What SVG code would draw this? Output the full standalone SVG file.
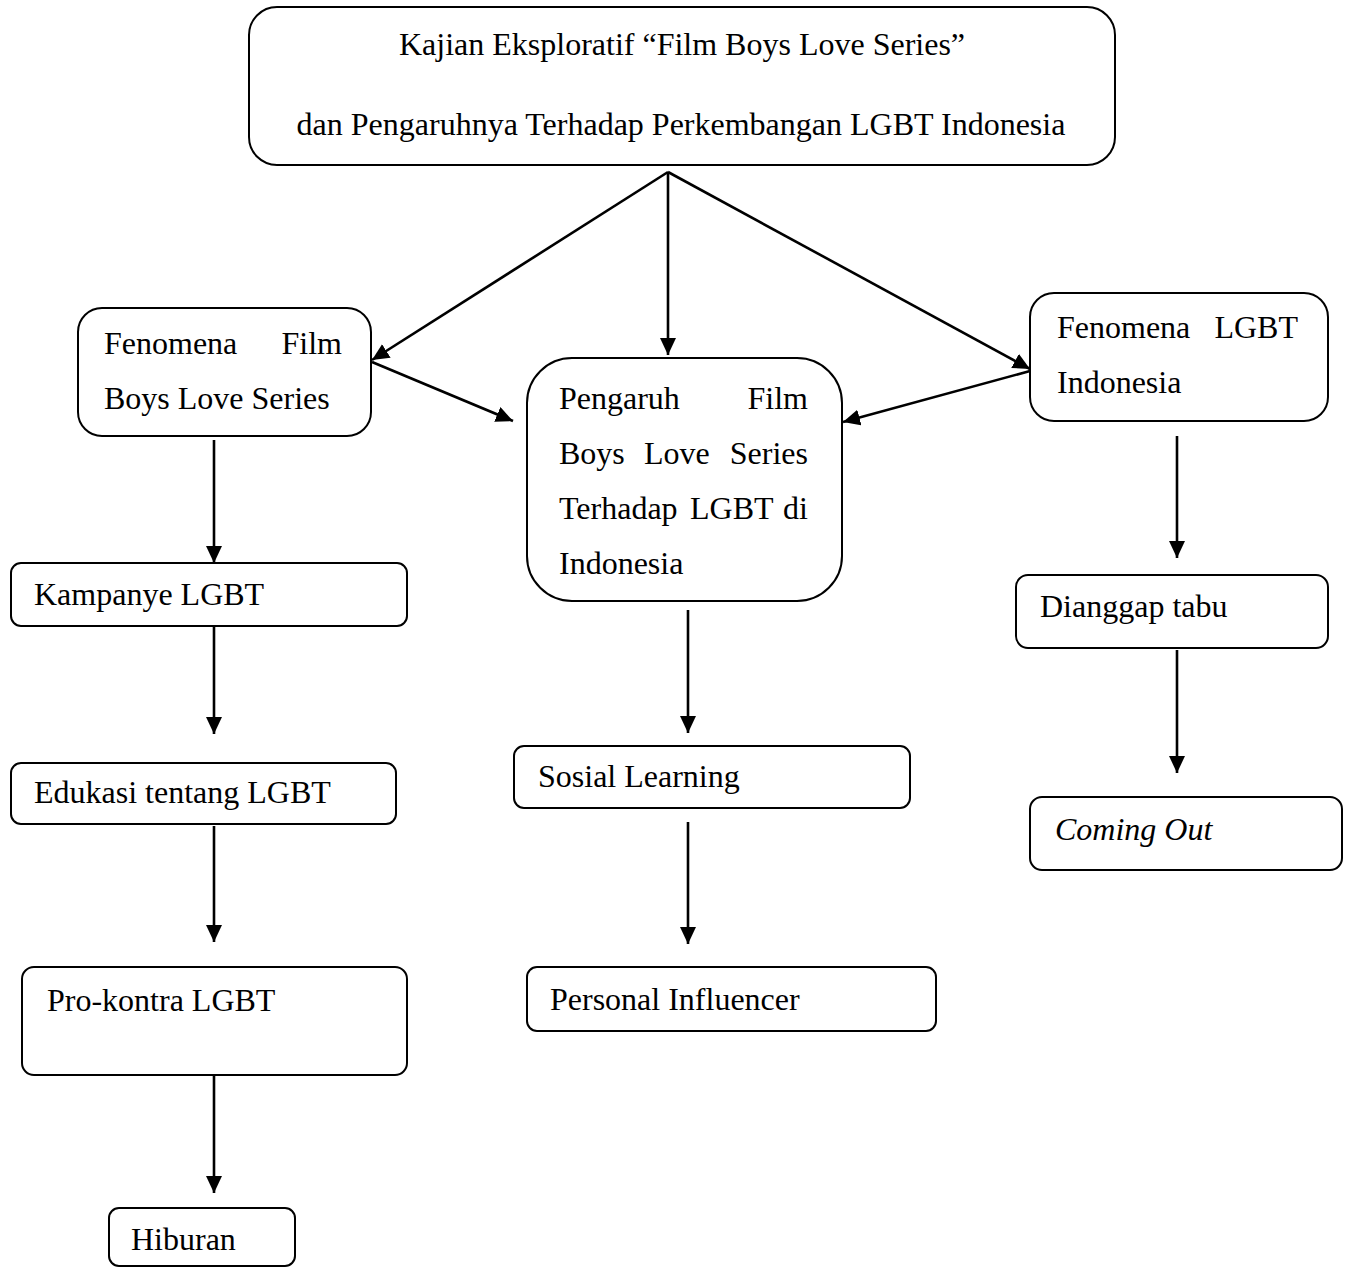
<svg xmlns="http://www.w3.org/2000/svg" width="1351" height="1268" viewBox="0 0 1351 1268">
<style>
.box{fill:#fff;stroke:#000;stroke-width:2}
.t{font-family:"Liberation Serif","Times New Roman",serif;font-size:32px;fill:#000}
.i{font-style:italic}
.c{stroke:#000;stroke-width:2.6;fill:none}
</style>
<defs>
<marker id="ah" markerUnits="userSpaceOnUse" markerWidth="18" markerHeight="17" refX="17" refY="8" orient="auto">
<path d="M0,0 L17,8 L0,16 z" fill="#000"/>
</marker>
</defs>
<rect width="1351" height="1268" fill="#fff"/>
<g id="title">
<rect class="box" x="249" y="7" width="866" height="158" rx="28"/>
<text class="t" x="682" y="55" text-anchor="middle">Kajian Eksploratif “Film Boys Love Series”</text>
<text class="t" x="681" y="135" text-anchor="middle">dan Pengaruhnya Terhadap Perkembangan LGBT Indonesia</text>
</g>
<g id="fenomena-film">
<rect class="box" x="78" y="308" width="293" height="128" rx="24"/>
<text class="t" x="104" y="354">Fenomena</text>
<text class="t" x="342" y="354" text-anchor="end">Film</text>
<text class="t" x="104" y="409">Boys Love Series</text>
</g>
<g id="pengaruh">
<rect class="box" x="527" y="358" width="315" height="243" rx="45"/>
<text class="t" x="559" y="409">Pengaruh</text>
<text class="t" x="808" y="409" text-anchor="end">Film</text>
<text class="t" x="559" y="464">Boys</text>
<text class="t" x="644" y="464">Love</text>
<text class="t" x="808" y="464" text-anchor="end">Series</text>
<text class="t" x="559" y="519">Terhadap</text>
<text class="t" x="690" y="519">LGBT</text>
<text class="t" x="808" y="519" text-anchor="end">di</text>
<text class="t" x="559" y="574">Indonesia</text>
</g>
<g id="fenomena-lgbt">
<rect class="box" x="1030" y="293" width="298" height="128" rx="24"/>
<text class="t" x="1057" y="338">Fenomena</text>
<text class="t" x="1298" y="338" text-anchor="end">LGBT</text>
<text class="t" x="1057" y="393">Indonesia</text>
</g>
<g id="kampanye">
<rect class="box" x="11" y="563" width="396" height="63" rx="10"/>
<text class="t" x="34" y="605">Kampanye LGBT</text>
</g>
<g id="edukasi">
<rect class="box" x="11" y="763" width="385" height="61" rx="10"/>
<text class="t" x="34" y="803">Edukasi tentang LGBT</text>
</g>
<g id="prokontra">
<rect class="box" x="22" y="967" width="385" height="108" rx="12"/>
<text class="t" x="47" y="1011">Pro-kontra LGBT</text>
</g>
<g id="hiburan">
<rect class="box" x="109" y="1208" width="186" height="58" rx="10"/>
<text class="t" x="131" y="1250">Hiburan</text>
</g>
<g id="sosial">
<rect class="box" x="514" y="746" width="396" height="62" rx="10"/>
<text class="t" x="538" y="787">Sosial Learning</text>
</g>
<g id="personal">
<rect class="box" x="527" y="967" width="409" height="64" rx="10"/>
<text class="t" x="550" y="1010">Personal Influencer</text>
</g>
<g id="tabu">
<rect class="box" x="1016" y="575" width="312" height="73" rx="12"/>
<text class="t" x="1040" y="617">Dianggap tabu</text>
</g>
<g id="coming-out">
<rect class="box" x="1030" y="797" width="312" height="73" rx="12"/>
<text class="t i" x="1055" y="840">Coming Out</text>
</g>
<g id="connectors">
<line class="c" x1="668" y1="172" x2="372" y2="360" marker-end="url(#ah)"/>
<line class="c" x1="668" y1="172" x2="668" y2="355" marker-end="url(#ah)"/>
<line class="c" x1="668" y1="172" x2="1030" y2="369" marker-end="url(#ah)"/>
<line class="c" x1="372" y1="362" x2="513" y2="421" marker-end="url(#ah)"/>
<line class="c" x1="1030" y1="371" x2="843" y2="422" marker-end="url(#ah)"/>
<line class="c" x1="214" y1="440" x2="214" y2="563" marker-end="url(#ah)"/>
<line class="c" x1="214" y1="627" x2="214" y2="734" marker-end="url(#ah)"/>
<line class="c" x1="214" y1="826" x2="214" y2="942" marker-end="url(#ah)"/>
<line class="c" x1="214" y1="1075" x2="214" y2="1193" marker-end="url(#ah)"/>
<line class="c" x1="688" y1="610" x2="688" y2="733" marker-end="url(#ah)"/>
<line class="c" x1="688" y1="822" x2="688" y2="944" marker-end="url(#ah)"/>
<line class="c" x1="1177" y1="436" x2="1177" y2="558" marker-end="url(#ah)"/>
<line class="c" x1="1177" y1="650" x2="1177" y2="773" marker-end="url(#ah)"/>
</g>
</svg>
